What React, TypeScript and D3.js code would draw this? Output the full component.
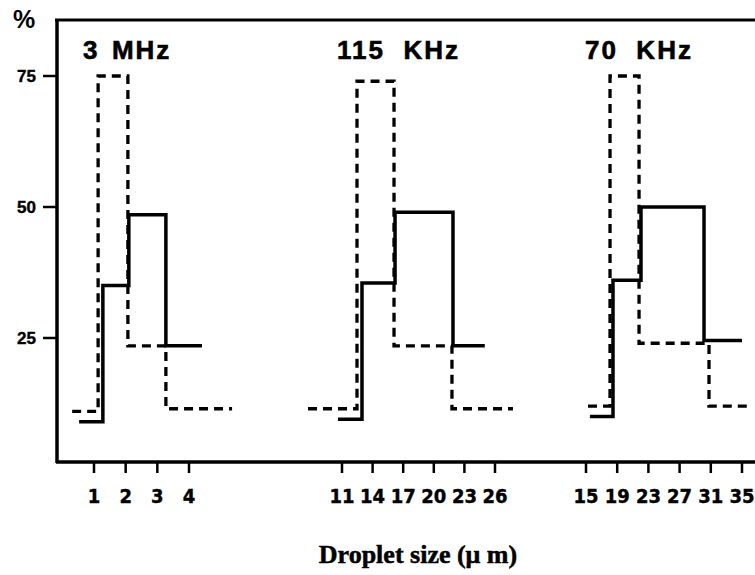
import React from "react";
import * as d3 from "d3";

// Percent axis ticks
const Y_TICKS = [25, 50, 75];

// Panel titles (ultrasound frequency)
const TITLES = ["3  MHz", "115  KHz", "70  KHz"];

// Droplet size tick labels per panel (µm)
const TICKS_3MHZ = [1, 2, 3, 4];
const TICKS_115KHZ = [11, 14, 17, 20, 23, 26];
const TICKS_70KHZ = [15, 19, 23, 27, 31, 35];

// Solid histogram: bin edges (µm) and percentages
const SOLID_EDGES_3MHZ = [0.53, 1.28, 2.1, 3.27, 4.41];
const SOLID_VALUES_3MHZ = [9, 35, 48.5, 23.5];
const SOLID_EDGES_115KHZ = [10.6, 12.96, 16.2, 21.88, 25.0];
const SOLID_VALUES_115KHZ = [9.5, 35.5, 49, 23.5];
const SOLID_EDGES_70KHZ = [15.5, 18.46, 22.05, 30.13, 35.0];
const SOLID_VALUES_70KHZ = [10, 36, 50, 24.5];

// Dashed histogram: bin edges (µm) and percentages
const DASHED_EDGES_3MHZ = [0.31, 1.13, 2.07, 3.27, 5.36];
const DASHED_VALUES_3MHZ = [11, 75, 23.5, 11.5];
const DASHED_EDGES_115KHZ = [7.67, 12.47, 16.1, 21.78, 27.76];
const DASHED_VALUES_115KHZ = [11.5, 74, 23.5, 11.5];
const DASHED_EDGES_70KHZ = [15.26, 18.08, 21.8, 30.77, 36.0];
const DASHED_VALUES_70KHZ = [12, 75, 24, 12];

const W = 755;
const H = 575;
const AXIS_X = 57;
const TOP_Y = 20;
const BASE_Y = 462;

const y = d3.scaleLinear().domain([0, 75]).range([469, 76]);

const panels = [
  {
    title: TITLES[0], titleX: 83, wordGap: -3, ticks: TICKS_3MHZ, range: [94, 189],
    solid: [SOLID_EDGES_3MHZ, SOLID_VALUES_3MHZ],
    dashed: [DASHED_EDGES_3MHZ, DASHED_VALUES_3MHZ],
  },
  {
    title: TITLES[1], titleX: 337, wordGap: 0, ticks: TICKS_115KHZ, range: [342, 495],
    solid: [SOLID_EDGES_115KHZ, SOLID_VALUES_115KHZ],
    dashed: [DASHED_EDGES_115KHZ, DASHED_VALUES_115KHZ],
  },
  {
    title: TITLES[2], titleX: 585, wordGap: 0, ticks: TICKS_70KHZ, range: [586, 742],
    solid: [SOLID_EDGES_70KHZ, SOLID_VALUES_70KHZ],
    dashed: [DASHED_EDGES_70KHZ, DASHED_VALUES_70KHZ],
  },
];

function stepPath(edges: number[], values: number[], x: d3.ScaleLinear<number, number>) {
  const pts: [number, number][] = edges.map((e, i) => [e, values[Math.min(i, values.length - 1)]]);
  const line = d3
    .line<[number, number]>()
    .x((d) => x(d[0]))
    .y((d) => y(d[1]))
    .curve(d3.curveStepAfter);
  return line(pts) || "";
}

const SANS = "'Liberation Sans', Arial, Helvetica, sans-serif";
const NARROW = "'Liberation Sans Narrow', 'Arial Narrow', 'DejaVu Sans Condensed', sans-serif";

export default function App() {
  return (
    <svg
      width={W}
      height={H}
      viewBox={`0 0 ${W} ${H}`}
      style={{ position: "absolute", left: 0, top: 0, background: "#fff" }}
    >
      <rect x={0} y={0} width={W} height={H} fill="#fff" />

      {/* frame */}
      <line x1={AXIS_X - 2} y1={TOP_Y} x2={W} y2={TOP_Y} stroke="#000" strokeWidth={3} />
      <line x1={AXIS_X} y1={TOP_Y - 1} x2={AXIS_X} y2={BASE_Y + 1} stroke="#000" strokeWidth={3.5} />
      <line x1={AXIS_X - 1} y1={BASE_Y} x2={W} y2={BASE_Y} stroke="#000" strokeWidth={3.5} />

      {/* y axis */}
      <text x={13} y={28} fontFamily={SANS} fontWeight="bold" fontSize={25}>%</text>
      {Y_TICKS.map((t) => (
        <g key={t}>
          <line x1={AXIS_X - 14} x2={AXIS_X} y1={y(t)} y2={y(t)} stroke="#000" strokeWidth={2.5} />
          <text
            x={36}
            y={y(t)}
            dy="0.35em"
            textAnchor="end"
            fontFamily={SANS}
            fontWeight="bold"
            fontSize={17}
            stroke="#000"
            strokeWidth={0.4}
          >
            {t}
          </text>
        </g>
      ))}

      {panels.map((p, i) => {
        const x = d3
          .scaleLinear()
          .domain([p.ticks[0], p.ticks[p.ticks.length - 1]])
          .range(p.range);
        return (
          <g key={i}>
            <text
              x={p.titleX}
              y={59}
              fontFamily={SANS}
              fontWeight="bold"
              fontSize={26}
              letterSpacing={2}
              wordSpacing={p.wordGap}
              stroke="#000"
              strokeWidth={0.6}
              style={{ whiteSpace: "pre" }}
            >
              {p.title}
            </text>
            {p.ticks.map((t) => (
              <g key={t}>
                <line x1={x(t)} x2={x(t)} y1={BASE_Y} y2={BASE_Y + 11} stroke="#000" strokeWidth={2.5} />
                <text
                  x={x(t)}
                  y={503}
                  textAnchor="middle"
                  fontFamily={NARROW}
                  fontWeight="bold"
                  fontSize={20}
                  stroke="#000"
                  strokeWidth={0.4}
                >
                  {t}
                </text>
              </g>
            ))}
            <path
              d={stepPath(p.dashed[0], p.dashed[1], x)}
              fill="none"
              stroke="#000"
              strokeWidth={3.3}
              strokeDasharray="9,6"
            />
            <path
              d={stepPath(p.solid[0], p.solid[1], x)}
              fill="none"
              stroke="#000"
              strokeWidth={3.5}
            />
          </g>
        );
      })}

      <text
        x={418}
        y={563}
        textAnchor="middle"
        fontFamily="'Liberation Serif', 'Times New Roman', serif"
        fontWeight="bold"
        fontSize={26}
        stroke="#000"
        strokeWidth={0.5}
      >
        Droplet size (μ m)
      </text>
    </svg>
  );
}
